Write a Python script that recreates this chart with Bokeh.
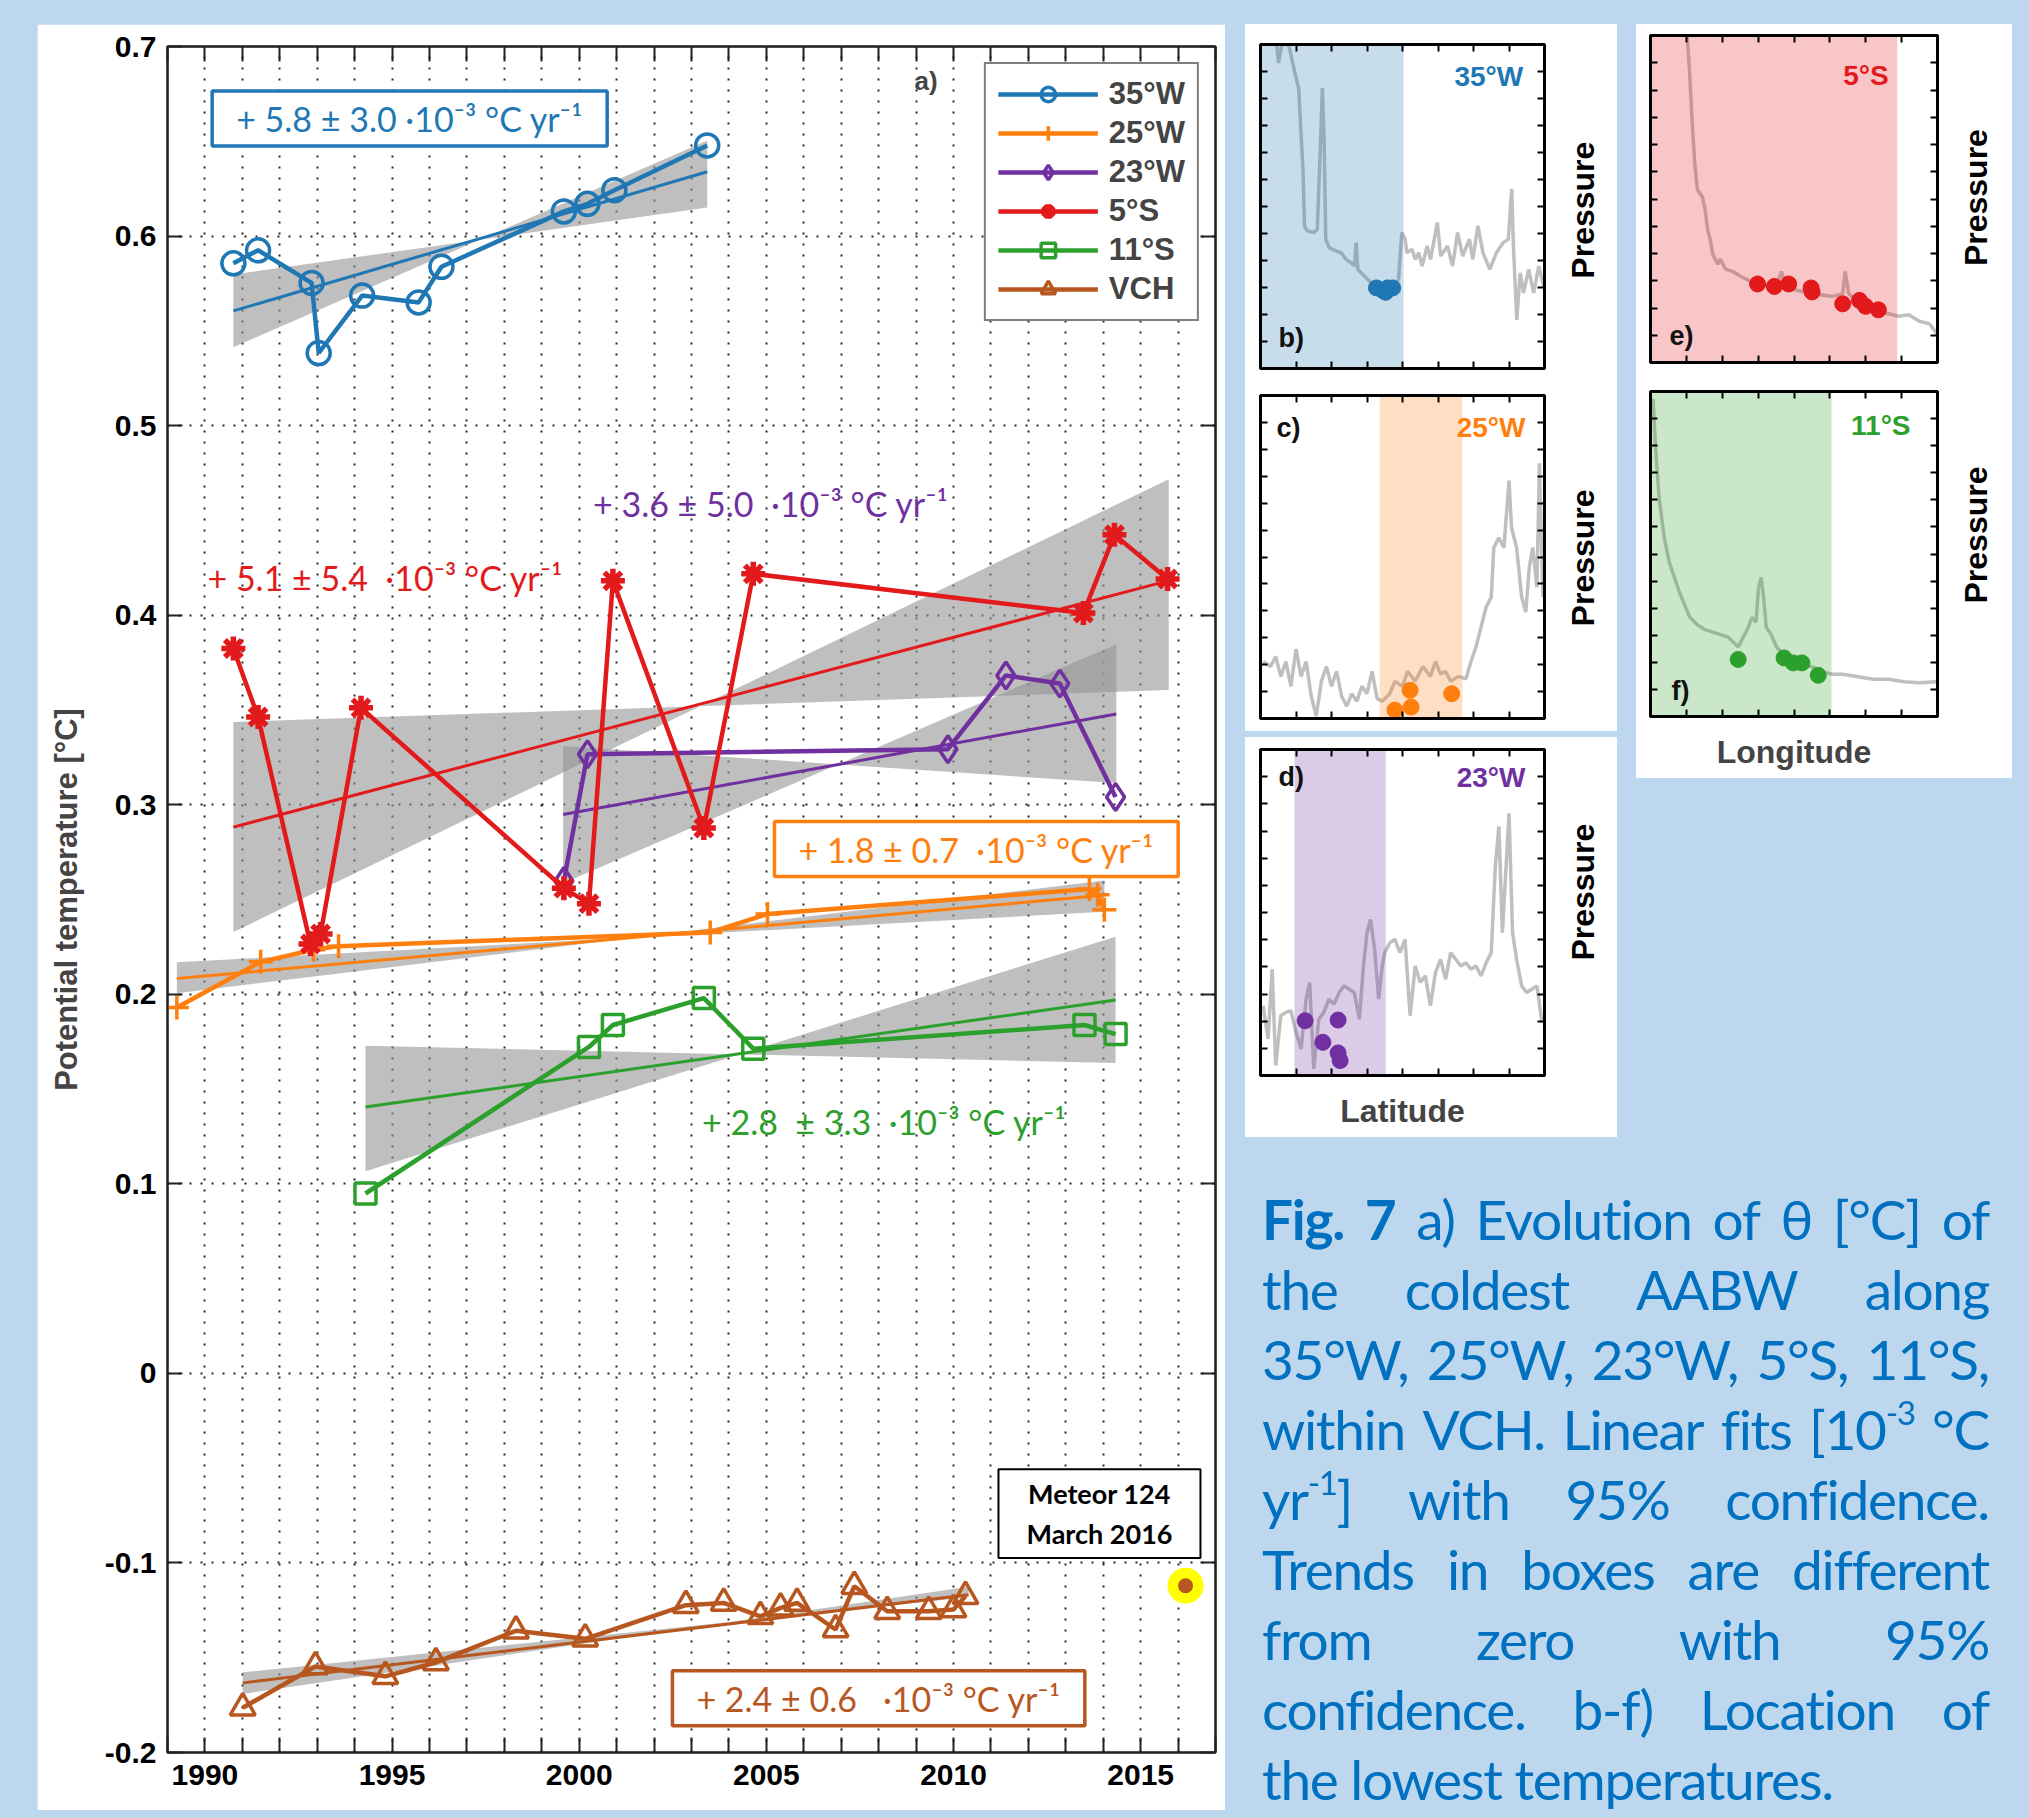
import numpy as np
from bokeh.plotting import figure
from bokeh.models import (Range1d, FixedTicker, LinearAxis, Label, Legend, LegendItem,
                          CustomJSTickFormatter, Div, Spacer)
from bokeh.layouts import row, column
from bokeh.embed import file_html
from bokeh.resources import INLINE

BG = "#BDD7EE"
BLUE = "#1F77B4"; ORANGE = "#FF7F0E"; PURPLE = "#7030A0"
RED = "#E31A1C"; GREEN = "#2CA02C"; BROWN = "#B8561F"

# ---------------- main panel data (year, potential temperature degC) ----------------
w35_x = [1990.76, 1991.42, 1992.85, 1993.04, 1994.2, 1995.71, 1996.32, 1999.59, 2000.22, 2000.94, 2003.42]
w35_y = [0.5856, 0.5925, 0.5753, 0.5383, 0.5686, 0.565, 0.5838, 0.613, 0.617, 0.6242, 0.6478]

w25_x = [1989.25, 1991.49, 1992.9, 1993.57, 2003.5, 2005.03, 2013.63, 2013.85, 2014.03]
w25_y = [0.193, 0.2171, 0.2235, 0.2254, 0.2326, 0.2424, 0.2555, 0.2525, 0.2446]

w23_x = [1999.59, 2000.22, 2009.85, 2011.4, 2012.84, 2014.33]
w23_y = [0.2598, 0.3266, 0.3293, 0.3682, 0.3639, 0.3041]

s5_x = [1990.76, 1991.42, 1992.82, 1993.09, 1994.17, 1999.59, 2000.26, 2000.9, 2003.33, 2004.65, 2013.47, 2014.3, 2015.72]
s5_y = [0.3824, 0.3463, 0.2265, 0.2318, 0.3511, 0.2560, 0.2478, 0.4181, 0.2877, 0.4218, 0.4011, 0.4424, 0.4191]

s11_x = [1994.29, 2000.26, 2000.9, 2003.33, 2004.65, 2013.5, 2014.33]
s11_y = [0.0949, 0.1722, 0.1838, 0.198, 0.1713, 0.1838, 0.179]

vch_x = [1991.01, 1992.95, 1994.82, 1996.17, 1998.31, 2000.16, 2002.85, 2003.86, 2004.84, 2005.38,
         2005.82, 2006.85, 2007.35, 2008.23, 2009.34, 2010.0, 2010.32]
vch_y = [-0.1764, -0.1546, -0.1598, -0.1525, -0.1358, -0.14, -0.1223, -0.1211, -0.1282, -0.1237,
         -0.1211, -0.1351, -0.1123, -0.1255, -0.1255, -0.1246, -0.1176]

# linear fits: [x_start, x_end], [y_start, y_end]; 95% band: lower/upper at start and end
fit_x = {"35W": [1990.76, 2003.42], "25W": [1989.25, 2014.03], "23W": [1999.57, 2014.35],
         "5S": [1990.76, 2015.75], "11S": [1994.29, 2014.33], "VCH": [1991.01, 2010.4]}
fit_y = {"35W": [0.5605, 0.6339], "25W": [0.2083, 0.2523], "23W": [0.2948, 0.3479],
         "5S": [0.2882, 0.4182], "11S": [0.1405, 0.197], "VCH": [-0.1633, -0.1168]}
band_start = {"35W": [0.5414, 0.5797], "25W": [0.2006, 0.2169], "23W": [0.2586, 0.331],
              "5S": [0.2328, 0.3436], "11S": [0.1066, 0.1729], "VCH": [-0.1691, -0.1577]}
band_end = {"35W": [0.615, 0.6504], "25W": [0.2435, 0.26], "23W": [0.3114, 0.3847],
            "5S": [0.3605, 0.4717], "11S": [0.1637, 0.2304], "VCH": [-0.1181, -0.1126]}

m124_x = [2016.2]
m124_y = [-0.112]

years = list(range(1989, 2018))
yticks = [round(-0.2 + 0.1 * i, 1) for i in range(10)]

# ---------------- side panels (profile, arbitrary units) ----------------
b_px = [70, 75, 85, 105, 125, 135, 140, 148, 152, 160, 180, 190, 200, 205, 210, 215, 225, 245, 260, 275,
        290, 300, 305, 310, 330, 350, 380, 420, 430, 440, 450, 455, 470, 480, 490, 500, 515, 525, 545, 555,
        575, 590, 605, 620, 640, 650, 665, 680, 700, 720, 740, 755, 765, 770, 780, 790, 800, 815, 830, 845, 860]
b_py = [20, 75, 20, 20, 110, 150, 250, 400, 560, 575, 580, 570, 300, 150, 300, 600, 625, 635, 640, 660,
        670, 680, 610, 690, 710, 730, 740, 740, 720, 580, 600, 640, 630, 660, 640, 680, 620, 660, 550, 650,
        620, 680, 580, 650, 600, 660, 560, 640, 690, 640, 610, 600, 450, 620, 840, 700, 760, 690, 760, 680, 740]
b_dx = [365, 383, 398, 413, 392]
b_dy = [745, 752, 745, 745, 758]
b_shade = [22, 445]

c_px = [60, 75, 85, 95, 105, 115, 125, 135, 145, 155, 165, 175, 185, 195, 205, 215, 225, 235, 245, 255,
        265, 275, 285, 295, 310, 320, 335, 345, 360, 375, 390, 400, 410, 420, 430, 445, 460, 470, 480, 490,
        500, 510, 515, 525, 535, 545, 550, 560, 570, 578, 585, 592, 600, 605, 612]
c_py = [1330, 1340, 1320, 1360, 1330, 1380, 1305, 1360, 1330, 1400, 1440, 1370, 1340, 1380, 1350, 1400, 1420, 1395, 1410, 1380,
        1395, 1350, 1405, 1410, 1395, 1370, 1380, 1350, 1370, 1340, 1360, 1330, 1355, 1350, 1370, 1360, 1365, 1330, 1300, 1260,
        1220, 1200, 1100, 1080, 1100, 965, 1060, 1100, 1200, 1230, 1140, 1100, 1180, 930, 1200]
c_dx = [320, 350, 352, 432]
c_dy = [1428, 1388, 1422, 1395]
c_shade = [290, 453]

d_px = [60, 70, 78, 85, 95, 105, 115, 125, 135, 145, 152, 160, 170, 180, 190, 200, 210, 220, 230, 240,
        250, 258, 265, 272, 280, 288, 295, 300, 310, 320, 330, 340, 350, 360, 370, 380, 390, 400, 410, 420,
        430, 440, 450, 460, 470, 480, 490, 500, 510, 518, 525, 532, 540, 545, 552, 560, 570, 580, 590, 600, 610]
d_py = [920, 1020, 810, 1100, 950, 940, 935, 1000, 1050, 900, 850, 1110, 960, 940, 900, 915, 880, 860, 870, 880,
        960, 800, 700, 660, 750, 900, 800, 760, 730, 720, 760, 720, 950, 800, 850, 830, 920, 820, 780, 840,
        760, 780, 800, 790, 810, 800, 830, 790, 760, 500, 380, 700, 480, 340, 700, 780, 860, 880, 870, 860, 970]
d_dx = [143, 178, 208, 208, 212]
d_dy = [965, 1030, 963, 1062, 1085]
d_shade = [122, 302]

e_px = [895, 900, 905, 910, 915, 925, 930, 935, 940, 945, 955, 960, 970, 985, 1000, 1020, 1040, 1060, 1075, 1080,
        1085, 1100, 1120, 1140, 1160, 1180, 1200, 1205, 1212, 1230, 1250, 1270, 1290, 1310, 1330, 1350, 1370, 1385]
e_py = [70, 150, 250, 330, 380, 395, 420, 460, 480, 510, 530, 520, 540, 545, 555, 565, 570, 575, 560, 545,
        565, 580, 585, 590, 592, 595, 590, 545, 590, 605, 615, 625, 630, 635, 632, 645, 650, 670]
e_dx = [1033, 1066, 1094, 1138, 1140, 1200, 1233, 1245, 1270]
e_dy = [570, 575, 570, 578, 586, 610, 603, 615, 622]
e_shade = [823, 1307]

f_px = [828, 833, 840, 850, 860, 870, 880, 890, 900, 915, 930, 945, 960, 975, 985, 995, 1005, 1015, 1022, 1030,
        1035, 1040, 1045, 1050, 1060, 1070, 1085, 1100, 1120, 1140, 1160, 1180, 1200, 1230, 1260, 1290, 1320, 1350, 1385]
f_py = [800, 900, 1000, 1080, 1130, 1160, 1190, 1215, 1240, 1255, 1265, 1270, 1275, 1280, 1290, 1300, 1280, 1260, 1240, 1250,
        1180, 1160, 1200, 1260, 1275, 1300, 1315, 1330, 1335, 1340, 1350, 1355, 1355, 1360, 1365, 1365, 1370, 1372, 1370]
f_dx = [995, 1085, 1103, 1120, 1152]
f_dy = [1325, 1322, 1332, 1332, 1357]
f_shade = [823, 1178]

ARIAL = "Liberation Sans"
CAL = "Lato"

# ---------------- main figure ----------------
p = figure(width=1188, height=1786, x_range=Range1d(1989, 2017), y_range=Range1d(-0.2, 0.7),
           output_backend="svg", toolbar_location=None,
           min_border_left=130, min_border_right=10, min_border_top=22, min_border_bottom=58,
           background_fill_color="white", border_fill_color="white",
           outline_line_color="black", outline_line_width=2)

p.add_layout(LinearAxis(), "above")
p.add_layout(LinearAxis(), "right")

xt = FixedTicker(ticks=years)
yt = FixedTicker(ticks=yticks)
for ax in p.xaxis:
    ax.ticker = xt
for ax in p.yaxis:
    ax.ticker = yt
for ax in p.axis:
    ax.major_tick_in = 15
    ax.major_tick_out = 0
    ax.minor_tick_line_color = None
    ax.axis_line_width = 2
    ax.major_tick_line_width = 2
    ax.axis_line_color = "#222222"
    ax.major_tick_line_color = "#222222"
    ax.major_label_text_font = ARIAL
    ax.major_label_text_font_style = "bold"
    ax.major_label_text_font_size = "30px"
    ax.major_label_text_color = "black"

p.below[0].formatter = CustomJSTickFormatter(code="const t = Math.round(tick); return (t % 5 === 0) ? String(t) : '';")
p.below[0].major_label_standoff = 12
p.left[0].formatter = CustomJSTickFormatter(code="return Math.abs(tick) < 1e-9 ? '0' : tick.toFixed(1);")
p.left[0].major_label_standoff = 11
p.left[0].axis_label = "Potential temperature [°C]"
p.left[0].axis_label_text_font = ARIAL
p.left[0].axis_label_text_font_style = "bold"
p.left[0].axis_label_text_font_size = "31px"
p.left[0].axis_label_standoff = 18
for ax in (p.above[0], p.right[0]):
    ax.formatter = CustomJSTickFormatter(code="return '';")
    ax.major_label_text_font_size = "0px"
    ax.major_label_standoff = 0

p.xgrid.ticker = xt
p.ygrid.ticker = yt
p.grid.grid_line_color = "black"
p.grid.grid_line_dash = "2 9"
p.grid.grid_line_width = 2
p.grid.grid_line_alpha = 0.85

keys = ["35W", "25W", "23W", "5S", "11S", "VCH"]
colors = [BLUE, ORANGE, PURPLE, RED, GREEN, BROWN]
xs = [w35_x, w25_x, w23_x, s5_x, s11_x, vch_x]
ys = [w35_y, w25_y, w23_y, s5_y, s11_y, vch_y]
labels = ["35°W", "25°W", "23°W", "5°S", "11°S", "VCH"]
markers = ["circle", "cross", "diamond", "asterisk", "square", "triangle"]
msizes = [23, 24, 27, 24, 21, 25]
mwidths = [3.5, 3.5, 3.5, 5.5, 3.5, 3.5]

# confidence bands (bow-tie between max- and min-slope lines)
for k in keys:
    x0, x1 = fit_x[k]
    lo0, hi0 = band_start[k]
    lo1, hi1 = band_end[k]
    p.patch([x0, x1, x1, x0], [lo0, hi1, lo1, hi0], fill_color="#959595", fill_alpha=0.6, line_alpha=0)

# fit lines
for k, c in zip(keys, colors):
    p.line(fit_x[k], fit_y[k], line_color=c, line_width=3)

items = []
for x, y, c, lab, m, s, mw in zip(xs, ys, colors, labels, markers, msizes, mwidths):
    lr = p.line(x, y, line_color=c, line_width=4.5)
    sr = p.scatter(x, y, marker=m, size=s, line_color=c, line_width=mw,
                   fill_color="white", fill_alpha=0)
    items.append(LegendItem(label=lab, renderers=[lr, sr]))

legend = Legend(items=items, location="top_right", margin=16, padding=12, spacing=3,
                glyph_width=100, glyph_height=36, label_height=36, label_standoff=11,
                label_text_font=ARIAL, label_text_font_style="bold", label_text_font_size="31px",
                border_line_color="black", border_line_width=2, background_fill_alpha=1.0)
p.add_layout(legend)

# Meteor 124 point
p.scatter(m124_x, m124_y, size=36, fill_color="#FFFF00", line_color=None)
p.scatter(m124_x, m124_y, size=15, fill_color=BROWN, line_color=None)

NB = "\u00a0"
def trend(x, y, text, color, box):
    kw = dict(x=x, y=y, text=text, text_font=CAL, text_font_size="34px", text_color=color,
              text_align="center", text_baseline="middle")
    if box:
        kw.update(border_line_color=color, border_line_width=3.5, background_fill_color="white",
                  padding=(24, 7))
    p.add_layout(Label(**kw))

trend(1995.47, 0.662, "+ 5.8 ± 3.0 ·10⁻³ °C yr⁻¹", BLUE, True)
trend(2005.12, 0.459, "+ 3.6 ± 5.0" + NB * 2 + "·10⁻³ °C yr⁻¹", PURPLE, False)
trend(1994.82, 0.420, "+ 5.1 ± 5.4" + NB * 2 + "·10⁻³ °C yr⁻¹", RED, False)
trend(2010.61, 0.2766, "+ 1.8 ± 0.7" + NB * 2 + "·10⁻³ °C yr⁻¹", ORANGE, True)
trend(2008.15, 0.1331, "+ 2.8" + NB * 2 + "± 3.3" + NB * 2 + "·10⁻³ °C yr⁻¹", GREEN, False)
trend(2008.0, -0.1714, "+ 2.4 ± 0.6" + NB * 3 + "·10⁻³ °C yr⁻¹", BROWN, True)

p.add_layout(Label(x=2013.9, y=-0.074, text="Meteor 124\nMarch 2016", text_font=CAL,
                   text_font_style="bold", text_font_size="27px", text_color="black",
                   text_align="center", text_baseline="middle", border_line_color="black",
                   border_line_width=2, background_fill_color="white", padding=(28, 8)))
p.add_layout(Label(x=2008.96, y=0.682, text="a)", text_font=ARIAL, text_font_style="bold",
                   text_font_size="26px", text_align="left", text_baseline="middle"))


# ---------------- side panels ----------------
def make_panel(px, py, dx, dy, shade, xlim, ylim, color, station, letter,
               st_frac, let_frac, borders, frame, lab_w, xlabel=None):
    l, r, t, b = borders
    fw, fh = frame
    h = t + fh + b
    f = figure(width=l + fw + r, height=h, x_range=Range1d(*xlim), y_range=Range1d(*ylim),
               output_backend="svg", toolbar_location=None,
               min_border_left=l, min_border_right=r, min_border_top=t, min_border_bottom=b,
               border_fill_color="white", background_fill_color="white",
               outline_line_color="black", outline_line_width=3)
    f.grid.visible = False
    f.add_layout(LinearAxis(), "above")
    f.add_layout(LinearAxis(), "right")
    sxt = FixedTicker(ticks=list(np.linspace(xlim[0], xlim[1], 9)))
    syt = FixedTicker(ticks=list(np.linspace(ylim[0], ylim[1], 13)))
    for ax in f.xaxis:
        ax.ticker = sxt
    for ax in f.yaxis:
        ax.ticker = syt
    for ax in f.axis:
        ax.formatter = CustomJSTickFormatter(code="return '';")
        ax.major_label_text_font_size = "0px"
        ax.major_label_standoff = 0
        ax.major_tick_in = 7
        ax.major_tick_out = 0
        ax.minor_tick_line_color = None
        ax.axis_line_width = 3
        ax.major_tick_line_width = 2
        ax.axis_line_color = "black"
    if xlabel:
        ax = f.below[0]
        ax.axis_label = xlabel
        ax.axis_label_text_font = ARIAL
        ax.axis_label_text_font_style = "bold"
        ax.axis_label_text_font_size = "32px"
        ax.axis_label_standoff = 17
    f.line(px, py, line_color="#BFBFBF", line_width=3.5)
    f.quad(left=shade[0], right=shade[1], bottom=ylim[0], top=ylim[1],
           fill_color=color, fill_alpha=0.25, line_alpha=0)
    f.scatter(dx, dy, size=16, fill_color=color, line_color=color)
    xr = xlim[1] - xlim[0]
    def yfrac(fr):
        return ylim[1] + fr * (ylim[0] - ylim[1])
    f.add_layout(Label(x=xlim[0] + st_frac[0] * xr, y=yfrac(st_frac[1]), text=station,
                       text_font=ARIAL, text_font_style="bold", text_font_size="28px",
                       text_color=color, text_align="right", text_baseline="middle"))
    f.add_layout(Label(x=xlim[0] + let_frac[0] * xr, y=yfrac(let_frac[1]), text=letter,
                       text_font=ARIAL, text_font_style="bold", text_font_size="27px",
                       text_color="#111111", text_align="left", text_baseline="middle"))
    # separate strip that carries the rotated "Pressure" label
    g = figure(width=lab_w, height=h, x_range=Range1d(0, lab_w), y_range=Range1d(0, h),
               output_backend="svg", toolbar_location=None, x_axis_type=None, y_axis_type=None,
               min_border=0, border_fill_color="white", background_fill_color="white",
               outline_line_color=None)
    g.grid.visible = False
    g.add_layout(Label(x=38 - r, y=h - (t + fh / 2.0), text="Pressure",
                       text_font=ARIAL, text_font_style="bold", text_font_size="32px",
                       text_color="black", text_align="center", text_baseline="middle",
                       angle=90, angle_units="deg"))
    return row(f, g, styles={"background-color": "white"})

pb = make_panel(b_px, b_py, b_dx, b_dy, b_shade, (22, 862), (985, 20), BLUE, "35°W", "b)",
                (0.925, 0.10), (0.063, 0.907), (15, 8, 20, 12), (284, 324), 65)
pc = make_panel(c_px, c_py, c_dx, c_dy, c_shade, (55, 615), (1445, 793), ORANGE, "25°W", "c)",
                (0.933, 0.10), (0.056, 0.10), (15, 8, 15, 13), (284, 323), 65)
pd = make_panel(d_px, d_py, d_dx, d_dy, d_shade, (55, 615), (1130, 148), PURPLE, "23°W", "d)",
                (0.933, 0.085), (0.063, 0.085), (15, 8, 12, 62), (284, 326), 65, xlabel="Latitude")
pe = make_panel(e_px, e_py, e_dx, e_dy, e_shade, (823, 1386), (728, 70), RED, "5°S", "e)",
                (0.83, 0.122), (0.066, 0.92), (14, 8, 11, 14), (287, 327), 67)
pf = make_panel(f_px, f_py, f_dx, f_dy, f_shade, (823, 1386), (1440, 785), GREEN, "11°S", "f)",
                (0.906, 0.105), (0.073, 0.923), (14, 8, 15, 62), (287, 325), 67, xlabel="Longitude")

# ---------------- caption ----------------
cap_lines = ["<b>Fig.</b> <b>7</b> a) Evolution of θ [°C] of",
             "the coldest AABW along",
             "35°W, 25°W, 23°W, 5°S, 11°S,",
             "within VCH. Linear fits [10<sup>-3</sup> °C",
             "yr<sup>-1</sup>] with 95% confidence.",
             "Trends in boxes are different",
             "from zero with 95%",
             "confidence. b-f) Location of",
             "the lowest temperatures."]
SUP = '<sup style="font-size:0.6em;line-height:0;vertical-align:0.75em;">'
CW = 727
html = ""
for i, ln in enumerate(cap_lines):
    words = ln.split(" ")
    if i < len(cap_lines) - 1:
        spans = "".join("<span>%s</span>" % w.replace("<sup>", SUP) for w in words)
        html += ('<div style="display:flex;justify-content:space-between;white-space:nowrap;'
                 'width:%dpx;height:70px;line-height:70px;">%s</div>' % (CW, spans))
    else:
        html += ('<div style="white-space:nowrap;width:%dpx;height:70px;line-height:70px;">%s</div>'
                 % (CW, ln.replace("<sup>", SUP)))
caption = Div(text=html, width=CW, height=640,
              styles={"color": "#0070C0", "font-family": "Lato", "font-size": "55px",
                      "letter-spacing": "-1.3px", "line-height": "70px"})

colA = column(column(pb, pc, styles={"background-color": "white"}), Spacer(width=372, height=6), pd)
colB = column(pe, pf, styles={"background-color": "white"})
right_top = row(colA, Spacer(width=19, height=10), colB)
right_col = column(right_top, Spacer(width=767, height=42), row(Spacer(width=12, height=10), caption))

main_row = row(Spacer(width=37, height=1786), p, Spacer(width=20, height=1786), right_col)
root = column(Spacer(width=2029, height=24), main_row, Spacer(width=2029, height=8),
              styles={"background-color": BG})

open("out.html", "w").write(file_html(root, INLINE))
